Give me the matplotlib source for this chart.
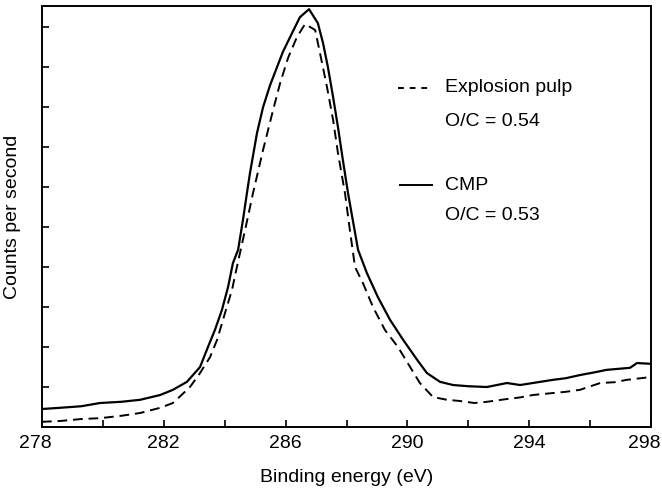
import numpy as np
import matplotlib
matplotlib.use("Agg")
import matplotlib.pyplot as plt
import matplotlib.transforms as mtransforms
from matplotlib.ticker import MultipleLocator, NullFormatter

plt.rcParams['font.family'] = ['Liberation Sans', 'DejaVu Sans']

# CMP spectrum (solid), binding energy in eV vs counts (arb. units)
cmp_x = [278.00, 278.59, 279.30, 279.90, 280.60, 281.22, 281.88, 282.30, 282.76,
         283.19, 283.45, 283.68, 283.91, 284.11, 284.27, 284.44, 284.60, 284.73,
         284.83, 285.06, 285.26, 285.49, 285.91, 286.21, 286.47, 286.77, 287.06,
         287.23, 287.39, 287.56, 287.72, 287.88, 288.05, 288.38, 288.67, 289.03,
         289.43, 289.86, 290.32, 290.64, 291.07, 291.50, 292.00, 292.61, 293.27,
         293.70, 294.12, 294.78, 295.20, 295.67, 296.10, 296.55, 297.31, 297.54,
         298.00]
cmp_y = [0.45, 0.48, 0.52, 0.60, 0.63, 0.68, 0.80, 0.93, 1.13,
         1.50, 2.00, 2.43, 2.93, 3.50, 4.10, 4.43, 5.18, 5.85,
         6.35, 7.35, 8.00, 8.55, 9.38, 9.85, 10.25, 10.45, 10.10,
         9.60, 9.00, 8.25, 7.50, 6.68, 5.85, 4.43, 3.85, 3.25,
         2.68, 2.18, 1.68, 1.35, 1.13, 1.05, 1.02, 1.00, 1.10,
         1.05, 1.10, 1.18, 1.22, 1.30, 1.36, 1.43, 1.48, 1.60,
         1.58]

# Explosion pulp spectrum (dashed)
exp_x = [278.00, 278.59, 279.30, 279.90, 280.60, 281.22, 281.88, 282.30, 282.86,
         283.19, 283.52, 283.75, 284.01, 284.24, 284.40, 284.67, 284.93, 285.26,
         285.59, 285.82, 286.08, 286.37, 286.64, 286.97, 287.13, 287.36, 287.56,
         287.72, 287.95, 288.11, 288.28, 288.54, 288.87, 289.26, 289.69, 290.09,
         290.41, 290.84, 291.30, 291.73, 292.20, 292.61, 293.27, 293.70, 294.12,
         294.78, 295.20, 295.67, 296.33, 296.80, 297.21, 298.00]
exp_y = [0.13, 0.15, 0.20, 0.22, 0.28, 0.35, 0.48, 0.60, 1.00,
         1.35, 1.75, 2.18, 2.85, 3.43, 4.00, 4.93, 5.85, 6.93,
         7.93, 8.60, 9.23, 9.75, 10.08, 9.93, 9.35, 8.50, 7.68,
         6.85, 5.85, 4.93, 4.00, 3.60, 3.00, 2.43, 2.00, 1.50,
         1.10, 0.75, 0.68, 0.65, 0.60, 0.63, 0.70, 0.74, 0.80,
         0.85, 0.88, 0.93, 1.10, 1.12, 1.18, 1.25]

xticks = [278, 282, 286, 290, 294, 298]

fig = plt.figure(figsize=(6.62, 4.96), dpi=100)
ax = fig.add_axes([42/662, 1 - 427/496, 609/662, 421/496])

ax.plot(cmp_x, cmp_y, color='black', lw=1.6, ls='-')
ax.plot(exp_x, exp_y, color='black', lw=1.4, ls=(0, (5, 3)))

ax.set_xlim(278, 298)
ax.set_ylim(0, 10.53)

ax.set_xticks(xticks)
ax.set_xticklabels([str(t) for t in xticks])
ax.xaxis.set_minor_locator(MultipleLocator(2))
ax.yaxis.set_major_locator(MultipleLocator(1))
ax.yaxis.set_major_formatter(NullFormatter())
ax.tick_params(which='both', direction='in', length=5, width=1.2,
               top=False, right=False, labelsize=14)
ax.tick_params(axis='x', pad=6)
for s in ax.spines.values():
    s.set_linewidth(1.4)

# the end labels sit a little to the left in the original
labels = ax.get_xticklabels()
shift = mtransforms.ScaledTranslation(-7/100, 0, fig.dpi_scale_trans)
labels[0].set_transform(labels[0].get_transform() + shift)
labels[-1].set_transform(labels[-1].get_transform() + shift)

ax.set_xlabel('Binding energy (eV)', fontsize=14)
ax.set_ylabel('Counts per second', fontsize=14)
ax.xaxis.set_label_coords(0.5, -0.10)
ax.yaxis.set_label_coords(-0.034, 0.5)

# legend-like annotations
ax.plot([289.7, 290.75], [8.48, 8.48], color='black', lw=1.4, ls=(0, (3, 3)))
ax.text(291.25, 8.48, 'Explosion pulp', fontsize=14, va='center')
ax.text(291.25, 7.63, 'O/C = 0.54', fontsize=14, va='center')
ax.plot([289.75, 290.8], [6.05, 6.05], color='black', lw=1.4)
ax.text(291.25, 6.05, 'CMP', fontsize=14, va='center')
ax.text(291.25, 5.3, 'O/C = 0.53', fontsize=14, va='center')

fig.savefig('out.png', dpi=100)
